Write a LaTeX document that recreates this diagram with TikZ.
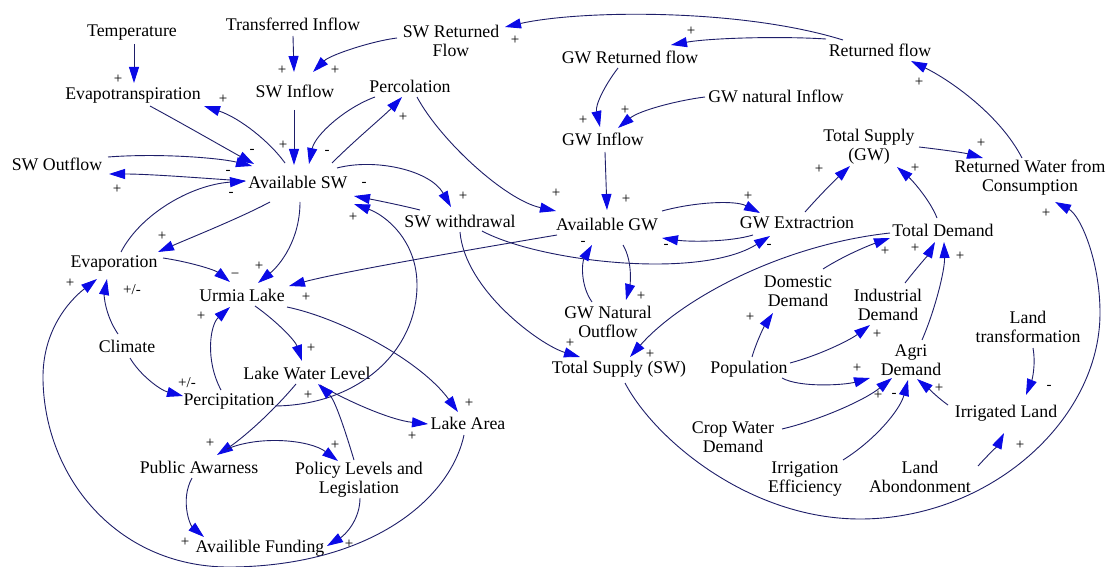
\documentclass[tikz,border=0pt]{standalone}
\usepackage{fontspec}
\setmainfont{Liberation Serif}
\usetikzlibrary{arrows.meta}
\definecolor{lncol}{RGB}{30,30,105}
\definecolor{tipcol}{RGB}{10,10,230}
\begin{document}
\begin{tikzpicture}[x=1pt,y=-1pt,
 lbl/.style={font=\fontsize{17.8}{19}\selectfont, align=center, inner sep=0pt},
 sg/.style={font=\fontsize{15}{15}\selectfont, inner sep=0pt},
 ar/.style={draw=lncol, line width=0.9pt, -{Triangle[length=16pt,width=10pt,color=tipcol]}}]
\useasboundingbox[fill=white] (0,0) rectangle (1109,567);
% nodes
\node[lbl] (temp) at (132,33) {Temperature};
\node[lbl] (trin) at (293,24) {Transferred Inflow};
\node[lbl] (swrf) at (451,41) {SW Returned\\Flow};
\node[lbl] (gwrf) at (630,57) {GW Returned flow};
\node[lbl] (retf) at (880,50) {Returned flow};
\node[lbl] (evt) at (133,96) {Evapotranspiration};
\node[lbl] (swin) at (295,91) {SW Inflow};
\node[lbl] (perc) at (410,86) {Percolation};
\node[lbl] (gwni) at (776,96) {GW natural Inflow};
\node[lbl] (gwin) at (603,139) {GW Inflow};
\node[lbl] (tsgw) at (869,147) {Total Supply\\(GW)};
\node[lbl] (rwc) at (1030,178) {Returned Water from\\Consumption};
\node[lbl] (swout) at (57,164) {SW Outflow};
\node[lbl] (asw) at (298,182) {Available SW};
\node[lbl] (sww) at (460,221) {SW withdrawal};
\node[lbl] (agw) at (607,224) {Available GW};
\node[lbl] (gwex) at (797,223) {GW Extractrion};
\node[lbl] (td) at (943,230) {Total Demand};
\node[lbl] (evap) at (114,264) {Evaporation};
\node[lbl] (urmia) at (242,295) {Urmia Lake};
\node[lbl] (dom) at (798,291) {Domestic\\Demand};
\node[lbl] (ind) at (888,305) {Industrial\\Demand};
\node[lbl] (landt) at (1028,327) {Land\\transformation};
\node[lbl] (gwno) at (608,322) {GW Natural\\Outflow};
\node[lbl] (climate) at (127,346) {Climate};
\node[lbl] (agri) at (911,360) {Agri\\Demand};
\node[lbl] (pop) at (749,369) {Population};
\node[lbl] (tssw) at (619,369) {Total Supply (SW)};
\node[lbl] (lwl) at (307,373) {Lake Water Level};
\node[lbl] (percip) at (229,402) {Percipitation};
\node[lbl] (larea) at (468,423) {Lake Area};
\node[lbl] (irrl) at (1006,413) {Irrigated Land};
\node[lbl] (pa) at (199,467) {Public Awarness};
\node[lbl] (policy) at (359,480) {Policy Levels and\\Legislation};
\node[lbl] (crop) at (733,437) {Crop Water\\Demand};
\node[lbl] (irre) at (805,479) {Irrigation\\Efficiency};
\node[lbl] (landab) at (920,477) {Land\\Abondonment};
\node[lbl] (fund) at (260,548) {Availible Funding};
% connectors
\draw[ar] ([shift={(2,11)}]temp.center) -- ([shift={(1,-13)}]evt.center);
\draw[ar] ([shift={(0,12)}]trin.center) -- ([shift={(-1,-19)}]swin.center);
\draw[ar] ([shift={(-54,-3)}]swrf.center) .. controls (372,41) and (330,55) .. ([shift={(18,-19)}]swin.center);
\draw[ar] ([shift={(-37,-10)}]retf.center) .. controls (740,8) and (580,10) .. ([shift={(54,-14)}]swrf.center);
\draw[ar] ([shift={(-54,-11)}]retf.center) .. controls (780,36) and (710,38) .. ([shift={(41,-12)}]gwrf.center);
\draw[ar] ([shift={(-8,-20)}]rwc.center) .. controls (1000,115) and (950,80) .. ([shift={(31,11)}]retf.center);
\draw[ar] ([shift={(50,0)}]tsgw.center) .. controls (945,150) and (965,153) .. ([shift={(-47,-20)}]rwc.center);
\draw[ar] ([shift={(-6,-12)}]td.center) .. controls (930,200) and (912,180) .. ([shift={(28,20)}]tsgw.center);
\draw[ar] ([shift={(8,-11)}]gwex.center) .. controls (820,195) and (835,180) .. ([shift={(-19,19)}]tsgw.center);
\draw[ar] ([shift={(6,14)}]tssw.center) .. controls (655,440) and (750,519) .. (860,519) .. controls (990,519) and (1100,420) .. (1100,313) .. controls (1100,260) and (1080,215) .. ([shift={(25,24)}]rwc.center);
\draw[ar] ([shift={(-12,11)}]gwrf.center) .. controls (605,85) and (595,105) .. ([shift={(-3,-12)}]gwin.center);
\draw[ar] ([shift={(-71,1)}]gwni.center) .. controls (680,100) and (640,110) .. ([shift={(15,-11)}]gwin.center);
\draw[ar] ([shift={(2,13)}]gwin.center) -- ([shift={(0,-14)}]agw.center);
\draw[ar] ([shift={(7,11)}]perc.center) .. controls (440,140) and (505,200) .. ([shift={(-51,-13)}]agw.center);
\draw[ar] ([shift={(55,-13)}]agw.center) .. controls (695,202) and (735,200) .. ([shift={(-37,-10)}]gwex.center);
\draw[ar] ([shift={(-44,12)}]gwex.center) .. controls (730,242) and (690,242) .. ([shift={(55,14)}]agw.center);
\draw[ar] ([shift={(22,10)}]sww.center) .. controls (540,262) and (700,280) .. ([shift={(-27,13)}]gwex.center);
\draw[ar] ([shift={(-50,11)}]agw.center) .. controls (480,248) and (340,272) .. ([shift={(47,-9)}]urmia.center);
\draw[ar] ([shift={(16,21)}]agw.center) .. controls (633,262) and (630,285) .. ([shift={(18,-22)}]gwno.center);
\draw[ar] ([shift={(-16,-20)}]gwno.center) .. controls (580,285) and (582,262) .. ([shift={(-15,21)}]agw.center);
\draw[ar] ([shift={(0,11)}]sww.center) .. controls (465,290) and (540,345) .. ([shift={(-39,-12)}]tssw.center);
\draw[ar] ([shift={(-53,3)}]td.center) .. controls (780,245) and (680,300) .. ([shift={(11,-12)}]tssw.center);
\draw[ar] ([shift={(25,-22)}]dom.center) .. controls (845,255) and (870,245) .. ([shift={(-53,8)}]td.center);
\draw[ar] ([shift={(17,-22)}]ind.center) .. controls (915,270) and (928,255) .. ([shift={(-8,12)}]td.center);
\draw[ar] ([shift={(11,-20)}]agri.center) .. controls (935,310) and (945,270) .. ([shift={(1,12)}]td.center);
\draw[ar] ([shift={(3,-12)}]pop.center) .. controls (757,340) and (765,325) .. ([shift={(-25,22)}]dom.center);
\draw[ar] ([shift={(41,-6)}]pop.center) .. controls (820,355) and (850,340) .. ([shift={(-18,20)}]ind.center);
\draw[ar] ([shift={(33,9)}]pop.center) .. controls (800,388) and (845,385) .. ([shift={(-41,18)}]agri.center);
\draw[ar] ([shift={(49,-8)}]crop.center) .. controls (820,420) and (865,400) .. ([shift={(-19,18)}]agri.center);
\draw[ar] ([shift={(38,-19)}]irre.center) .. controls (875,440) and (900,410) .. ([shift={(-3,20)}]agri.center);
\draw[ar] ([shift={(-58,-8)}]irrl.center) .. controls (938,398) and (928,388) .. ([shift={(6,19)}]agri.center);
\draw[ar] ([shift={(5,21)}]landt.center) .. controls (1036,365) and (1032,380) .. ([shift={(20,-18)}]irrl.center);
\draw[ar] ([shift={(58,-11)}]landab.center) .. controls (988,455) and (998,445) .. ([shift={(-2,20)}]irrl.center);
\draw[ar] ([shift={(17,10)}]evt.center) .. controls (185,125) and (225,148) .. ([shift={(-44,-18)}]asw.center);
\draw[ar] ([shift={(-13,-19)}]asw.center) .. controls (270,142) and (240,118) .. ([shift={(71,10)}]evt.center);
\draw[ar] ([shift={(-1,19)}]swin.center) -- ([shift={(-4,-17)}]asw.center);
\draw[ar] ([shift={(-35,11)}]perc.center) .. controls (345,108) and (315,135) .. ([shift={(11,-18)}]asw.center);
\draw[ar] ([shift={(34,-19)}]asw.center) .. controls (355,140) and (385,115) .. ([shift={(-8,11)}]perc.center);
\draw[ar] ([shift={(51,-7)}]swout.center) .. controls (160,153) and (220,158) .. ([shift={(-46,-16)}]asw.center);
\draw[ar] ([shift={(-53,-1)}]asw.center) .. controls (200,178) and (150,174) .. ([shift={(52,10)}]swout.center);
\draw[ar] ([shift={(7,-12)}]evap.center) .. controls (140,215) and (190,185) .. ([shift={(-52,-1)}]asw.center);
\draw[ar] ([shift={(-28,20)}]asw.center) .. controls (240,218) and (190,238) .. ([shift={(44,-12)}]evap.center);
\draw[ar] ([shift={(2,20)}]asw.center) .. controls (300,240) and (280,265) .. ([shift={(16,-12)}]urmia.center);
\draw[ar] ([shift={(49,-6)}]evap.center) .. controls (190,262) and (215,270) .. ([shift={(-12,-13)}]urmia.center);
\draw[ar] ([shift={(-40,-11)}]sww.center) .. controls (400,205) and (375,200) .. ([shift={(56,14)}]asw.center);
\draw[ar] ([shift={(46,4)}]percip.center) .. controls (360,405) and (417,350) .. (417,285) .. controls (417,240) and (385,215) .. ([shift={(56,22)}]asw.center);
\draw[ar] ([shift={(39,-14)}]asw.center) .. controls (375,158) and (430,170) .. ([shift={(-9,-14)}]sww.center);
\draw[ar] ([shift={(-9,-12)}]climate.center) .. controls (105,315) and (104,295) .. ([shift={(-7,15)}]evap.center);
\draw[ar] ([shift={(3,12)}]climate.center) .. controls (140,375) and (160,390) .. ([shift={(-46,-6)}]percip.center);
\draw[ar] ([shift={(-4,12)}]larea.center) .. controls (450,500) and (370,565) .. (233,567) .. controls (120,569) and (45,480) .. (43,380) .. controls (42,330) and (70,300) .. ([shift={(-17,15)}]evap.center);
\draw[ar] ([shift={(-8,-12)}]percip.center) .. controls (205,360) and (210,325) .. ([shift={(-12,12)}]urmia.center);
\draw[ar] ([shift={(13,11)}]urmia.center) .. controls (275,320) and (295,340) .. ([shift={(-5,-12)}]lwl.center);
\draw[ar] ([shift={(45,12)}]urmia.center) .. controls (340,318) and (420,360) .. ([shift={(-10,-11)}]larea.center);
\draw[ar] ([shift={(13,12)}]lwl.center) .. controls (345,400) and (390,420) .. ([shift={(-40,1)}]larea.center);
\draw[ar] ([shift={(-11,11)}]lwl.center) .. controls (270,415) and (240,440) .. ([shift={(18,-12)}]pa.center);
\draw[ar] ([shift={(-5,-20)}]policy.center) .. controls (345,430) and (335,400) .. ([shift={(11,11)}]lwl.center);
\draw[ar] ([shift={(28,-18)}]pa.center) .. controls (260,435) and (310,440) .. ([shift={(-21,-19)}]policy.center);
\draw[ar] ([shift={(-7,11)}]pa.center) .. controls (180,500) and (190,525) .. ([shift={(-56,-11)}]fund.center);
\draw[ar] ([shift={(1,18)}]policy.center) .. controls (360,520) and (345,535) .. ([shift={(67,-2)}]fund.center);
% polarity signs
\node[sg] (s1) at (118,79) {+};
\node[sg] (s2) at (282,70) {+};
\node[sg] (s3) at (335,70) {+};
\node[sg] (s4) at (515,40) {+};
\node[sg] (s5) at (691,31) {+};
\node[sg] (s6) at (919,82) {+};
\node[sg] (s7) at (981,143) {+};
\node[sg] (s8) at (915,168) {+};
\node[sg] (s9) at (819,169) {+};
\node[sg] (s10) at (1046,213) {+};
\node[sg] (s11) at (583,120) {+};
\node[sg] (s12) at (625,110) {+};
\node[sg] (s13) at (626,199) {+};
\node[sg] (s14) at (556,193) {+};
\node[sg] (s15) at (748,196) {+};
\node[sg] (s16) at (666,246) {-};
\node[sg] (s17) at (769,246) {-};
\node[sg] (s18) at (306,297) {+};
\node[sg] (s19) at (641,296) {+};
\node[sg] (s20) at (583,243) {-};
\node[sg] (s21) at (570,343) {+};
\node[sg] (s22) at (650,354) {+};
\node[sg] (s23) at (885,251) {+};
\node[sg] (s24) at (915,248) {+};
\node[sg] (s25) at (960,256) {+};
\node[sg] (s26) at (750,317) {+};
\node[sg] (s27) at (877,334) {+};
\node[sg] (s28) at (857,368) {+};
\node[sg] (s29) at (878,395) {+};
\node[sg] (s30) at (894,395) {-};
\node[sg] (s31) at (939,388) {+};
\node[sg] (s32) at (1049,387) {-};
\node[sg] (s33) at (1020,445) {+};
\node[sg] (s34) at (252,151) {-};
\node[sg] (s35) at (223,99) {+};
\node[sg] (s36) at (283,145) {+};
\node[sg] (s37) at (327,152) {-};
\node[sg] (s38) at (403,117) {+};
\node[sg] (s39) at (228,172) {-};
\node[sg] (s40) at (117,189) {+};
\node[sg] (s41) at (231,194) {-};
\node[sg] (s42) at (162,236) {+};
\node[sg] (s43) at (259,266) {+};
\node[sg] (s44) at (235,276) {−};
\node[sg] (s45) at (364,184) {-};
\node[sg] (s46) at (353,217) {+};
\node[sg] (s47) at (463,196) {+};
\node[sg] (s48) at (132,290) {+/-};
\node[sg] (s49) at (187,383) {+/-};
\node[sg] (s50) at (70,283) {+};
\node[sg] (s51) at (201,316) {+};
\node[sg] (s52) at (311,348) {+};
\node[sg] (s53) at (469,403) {+};
\node[sg] (s54) at (412,436) {+};
\node[sg] (s55) at (210,443) {+};
\node[sg] (s56) at (308,395) {+};
\node[sg] (s57) at (335,445) {+};
\node[sg] (s58) at (185,542) {+};
\node[sg] (s59) at (349,544) {+};
\end{tikzpicture}
\end{document}
